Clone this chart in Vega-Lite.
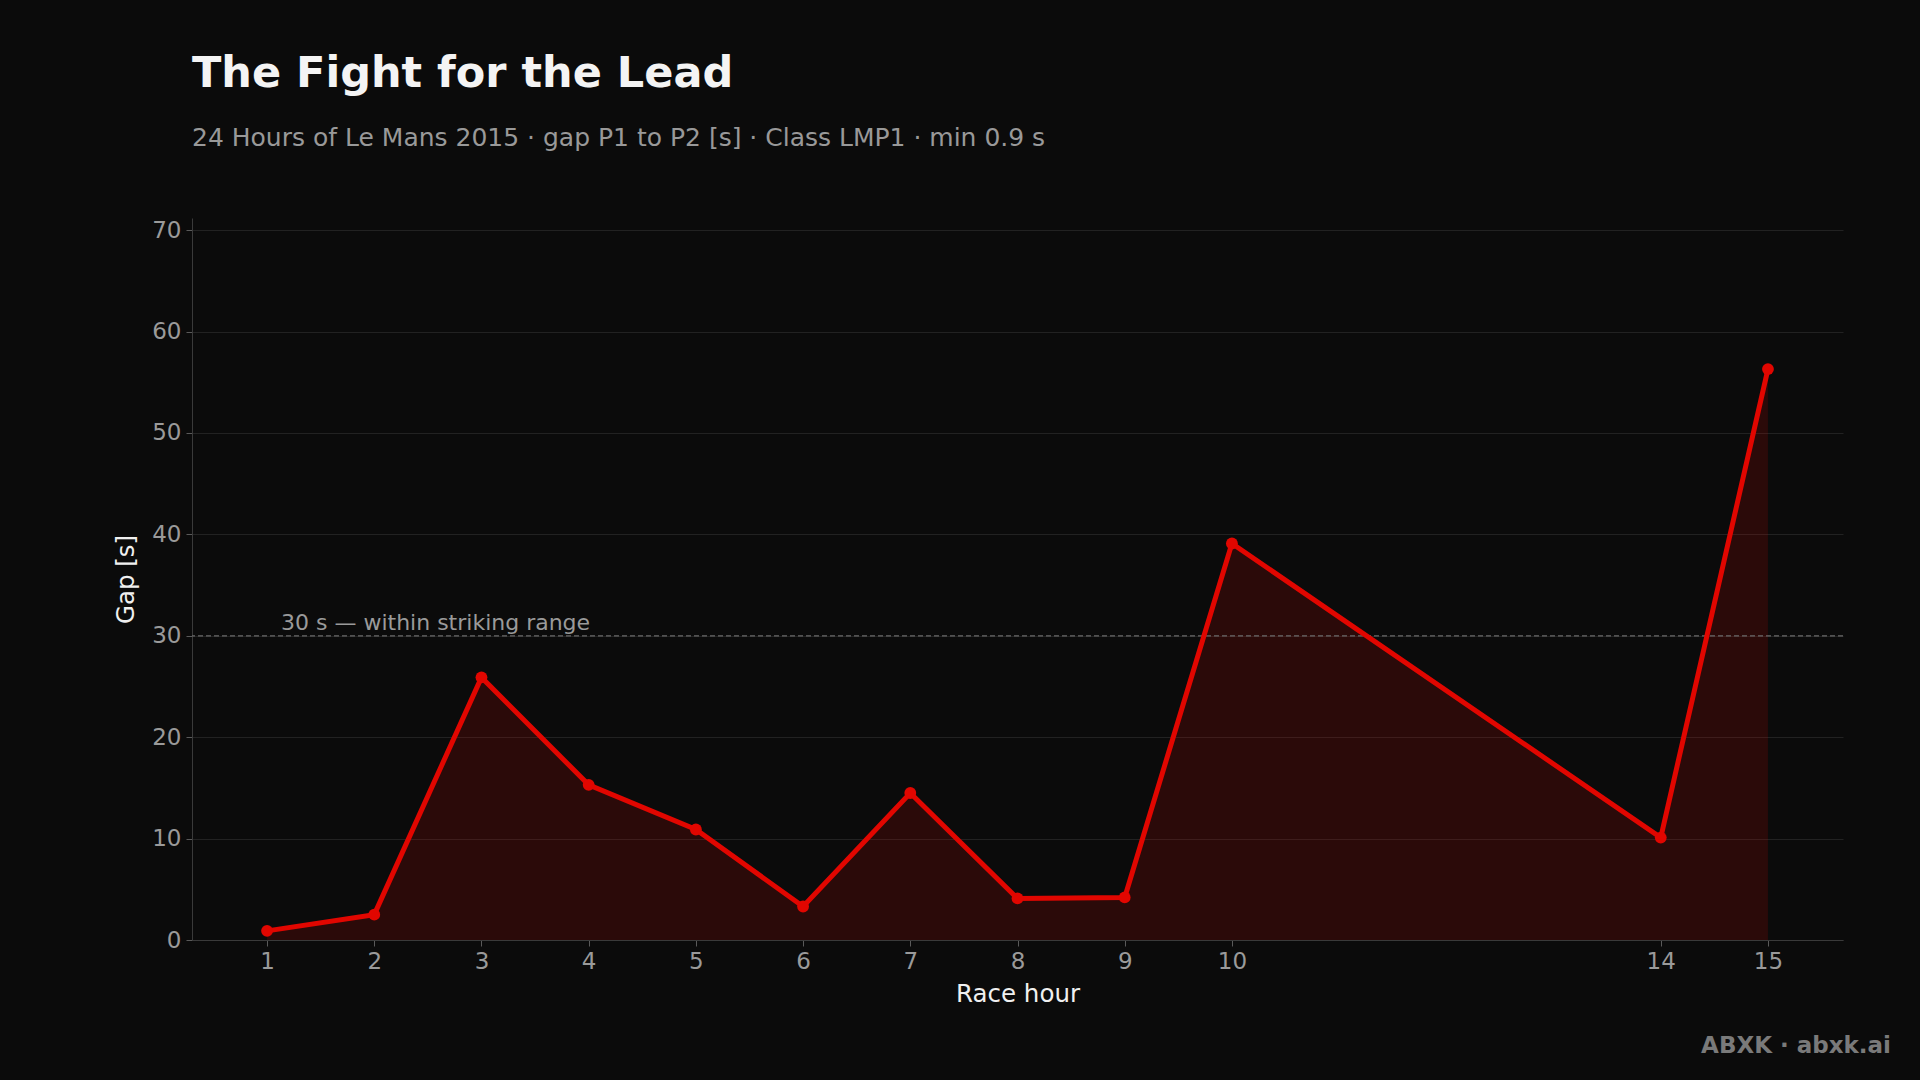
{
  "$schema": "https://vega.github.io/schema/vega-lite/v6.json",
  "width": 1651,
  "height": 722,
  "autosize": {"type": "none"},
  "padding": {"left": 192, "top": 218, "right": 77, "bottom": 140},
  "background": "#0b0b0b",
  "title": {
    "text": "The Fight for the Lead",
    "subtitle": "24 Hours of Le Mans 2015 · gap P1 to P2 [s] · Class LMP1 · min 0.9 s",
    "anchor": "start",
    "frame": "group",
    "offset": 67,
    "font": "DejaVu Sans",
    "fontSize": 43,
    "fontWeight": "bold",
    "color": "#f4f4f4",
    "subtitleFont": "DejaVu Sans",
    "subtitleFontSize": 25,
    "subtitleColor": "#999999",
    "subtitlePadding": 30.5
  },
  "datasets": {
    "gap": [
      {"hour": 1, "gap": 0.9},
      {"hour": 2, "gap": 2.5},
      {"hour": 3, "gap": 25.9},
      {"hour": 4, "gap": 15.3},
      {"hour": 5, "gap": 10.9},
      {"hour": 6, "gap": 3.3},
      {"hour": 7, "gap": 14.5},
      {"hour": 8, "gap": 4.1},
      {"hour": 9, "gap": 4.2},
      {"hour": 10, "gap": 39.1},
      {"hour": 14, "gap": 10.1},
      {"hour": 15, "gap": 56.3}
    ],
    "threshold": [
      {"value": 30, "label": "30 s — within striking range", "labelHour": 1.13}
    ],
    "credit": [
      {"text": "ABXK · abxk.ai"}
    ]
  },
  "layer": [
    {
      "data": {"name": "gap"},
      "mark": {"type": "area", "color": "#e10600", "opacity": 0.15},
      "encoding": {
        "x": {
          "field": "hour",
          "type": "quantitative",
          "scale": {"domain": [0.3, 15.7], "nice": false, "zero": false},
          "axis": {
            "title": "Race hour",
            "values": [1, 2, 3, 4, 5, 6, 7, 8, 9, 10, 14, 15],
            "grid": false,
            "format": "d"
          }
        },
        "y": {
          "field": "gap",
          "type": "quantitative",
          "scale": {"domain": [0, 71.2], "nice": false},
          "axis": {
            "title": "Gap [s]",
            "values": [0, 10, 20, 30, 40, 50, 60, 70],
            "grid": true
          }
        }
      }
    },
    {
      "data": {"name": "threshold"},
      "mark": {"type": "rule", "color": "#6a6a6a", "strokeWidth": 1.2, "strokeDash": [5, 3]},
      "encoding": {
        "y": {"field": "value", "type": "quantitative"}
      }
    },
    {
      "data": {"name": "threshold"},
      "mark": {"type": "text", "align": "left", "baseline": "alphabetic", "dy": -6, "font": "DejaVu Sans", "fontSize": 22, "color": "#9a9a9a"},
      "encoding": {
        "x": {"field": "labelHour", "type": "quantitative"},
        "y": {"field": "value", "type": "quantitative"},
        "text": {"field": "label"}
      }
    },
    {
      "data": {"name": "gap"},
      "mark": {"type": "line", "color": "#e10600", "strokeWidth": 5, "point": {"filled": true, "size": 140, "color": "#e10600"}},
      "encoding": {
        "x": {"field": "hour", "type": "quantitative"},
        "y": {"field": "gap", "type": "quantitative"}
      }
    },
    {
      "data": {"name": "credit"},
      "mark": {"type": "text", "align": "right", "baseline": "alphabetic", "dx": 48, "dy": 113, "font": "DejaVu Sans", "fontSize": 23, "fontWeight": "bold", "color": "#7a7a7a"},
      "encoding": {
        "x": {"value": "width"},
        "y": {"value": "height"},
        "text": {"field": "text"}
      }
    }
  ],
  "config": {
    "view": {"stroke": null},
    "axis": {
      "labelFont": "DejaVu Sans",
      "labelFontSize": 23,
      "labelColor": "#9a9a9a",
      "titleFont": "DejaVu Sans",
      "titleFontSize": 24.5,
      "titleFontWeight": "normal",
      "titleColor": "#f0f0f0",
      "domainColor": "#3a3a3a",
      "tickColor": "#5a5a5a",
      "tickSize": 6,
      "gridColor": "#222222",
      "gridWidth": 1
    },
    "axisX": {"labelPadding": 4, "titlePadding": 9},
    "axisY": {"labelPadding": 5, "titlePadding": 13}
  }
}
